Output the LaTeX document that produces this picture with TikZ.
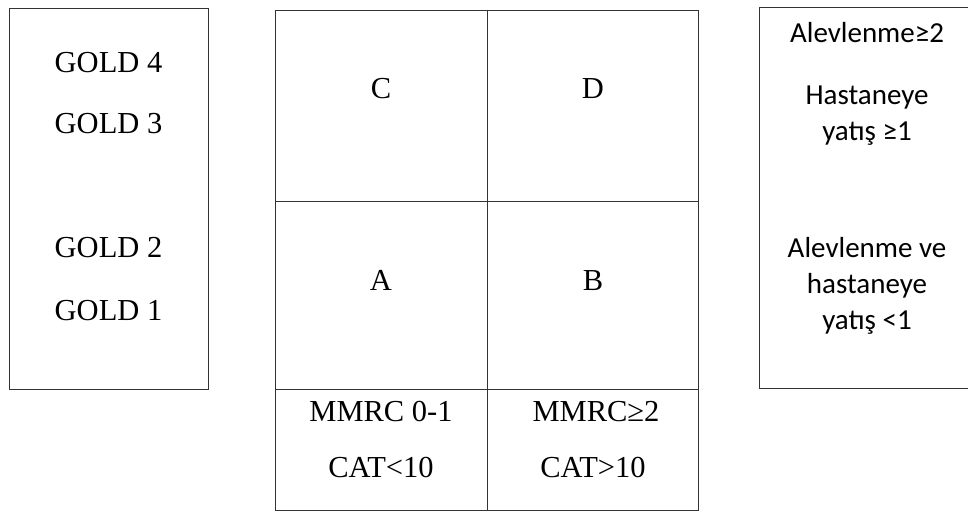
\documentclass[tikz,border=0pt]{standalone}
\usepackage{fontspec}
\setmainfont{Liberation Serif}
\newfontfamily\calib{Carlito}
\begin{document}
\begin{tikzpicture}[x=1pt,y=-1pt,
  frame/.style={draw=black!80,line width=1.3pt,rectangle,inner sep=0pt,anchor=north west},
  serif/.style={anchor=base,inner sep=0pt,font=\fontsize{30.5}{36}\selectfont},
  sans/.style={anchor=base,inner sep=0pt,font=\calib\fontsize{29}{35}\selectfont}]
\clip (0,0) rectangle (968,513);
\fill[white] (0,0) rectangle (968,513);
% left box
\node[frame,minimum width=199pt,minimum height=381pt] (gold) at (9,8) {};
\node[serif] (g4) at (108.5,73) {GOLD 4};
\node[serif] (g3) at (108.5,134) {GOLD 3};
\node[serif] (g2) at (108.5,257) {GOLD 2};
\node[serif] (g1) at (108.5,320) {GOLD 1};
% middle grid
\node[frame,minimum width=212pt,minimum height=191pt] (cC) at (275,10) {};
\node[frame,minimum width=211pt,minimum height=191pt] (cD) at (487,10) {};
\node[frame,minimum width=212pt,minimum height=188pt] (cA) at (275,201) {};
\node[frame,minimum width=211pt,minimum height=188pt] (cB) at (487,201) {};
\node[frame,minimum width=212pt,minimum height=121pt] (cL) at (275,389) {};
\node[frame,minimum width=211pt,minimum height=121pt] (cR) at (487,389) {};
\node[serif] (tC) at (381,99) {C};
\node[serif] (tD) at (593,99) {D};
\node[serif] (tA) at (381,290) {A};
\node[serif] (tB) at (593,290) {B};
\node[serif] (m1) at (381,421) {MMRC 0-1};
\node[serif] (k1) at (381,477) {CAT<10};
\node[serif] (m2) at (596,421) {MMRC≥2};
\node[serif] (k2) at (593,477) {CAT>10};
% right box
\node[frame,minimum width=217pt,minimum height=381pt] (risk) at (759,7) {};
\node[sans] (r1) at (867,43) {Alevlenme≥2};
\node[sans] (r2) at (867,105) {Hastaneye};
\node[sans] (r3) at (867,141) {yatış ≥1};
\node[sans] (r4) at (867,257) {Alevlenme ve};
\node[sans] (r5) at (867,293) {hastaneye};
\node[sans] (r6) at (867,329) {yatış <1};
\end{tikzpicture}
\end{document}
